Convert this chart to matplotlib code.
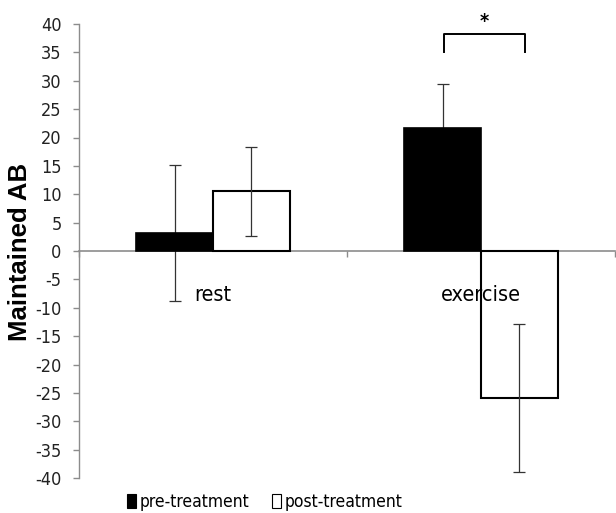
import matplotlib
matplotlib.use("Agg")
import matplotlib.pyplot as plt
from matplotlib import font_manager as fm
from matplotlib.patches import Patch
import numpy as np

# ---- data ----
categories = ["rest", "exercise"]
pre_values = [3.2, 21.7]
post_values = [10.5, -25.9]
pre_err = [12.0, 7.8]
post_err = [7.8, 13.0]
series_labels = ["pre-treatment", "post-treatment"]
y_ticks = list(range(-40, 45, 5))
y_label = "Maintained AB"
sig_label = "*"

# ---- fonts ----
names = {f.name for f in fm.fontManager.ttflist}
if "Liberation Sans Narrow" in names:
    narrow = dict(family=["Liberation Sans Narrow", "DejaVu Sans"])
else:
    narrow = dict(family=["DejaVu Sans"], stretch="condensed")
bold_family = ["Liberation Sans", "DejaVu Sans"]

W, H = 616, 513
fig = plt.figure(figsize=(W / 100, H / 100), dpi=100)
ax_left, ax_right, ax_top, ax_bot = 79, 615, 24, 478
ax = fig.add_axes([ax_left / W, 1 - ax_bot / H, (ax_right - ax_left) / W, (ax_bot - ax_top) / H])

x = np.arange(len(categories))
bw = 0.287
gray = "#8c8c8c"

ax.bar(x - bw / 2, pre_values, bw, color="black", edgecolor="black", linewidth=1.2, zorder=2)
ax.bar(x + bw / 2, post_values, bw, color="white", edgecolor="black", linewidth=1.5, zorder=2)
# pre-treatment error bars sit behind the black bars (hidden where they overlap)
ax.errorbar(x - bw / 2, pre_values, yerr=pre_err, fmt="none", ecolor="#333333",
            elinewidth=0.9, capsize=4, capthick=0.9, zorder=1.8)
ax.errorbar(x + bw / 2, post_values, yerr=post_err, fmt="none", ecolor="#333333",
            elinewidth=0.9, capsize=4, capthick=0.9, zorder=3)

ax.set_xlim(-0.5, 1.5)
ax.set_ylim(-40, 40)

# spines
for s in ["top", "right"]:
    ax.spines[s].set_visible(False)
ax.spines["left"].set_color(gray)
ax.spines["left"].set_linewidth(1.0)
ax.spines["bottom"].set_position(("data", 0))
ax.spines["bottom"].set_color(gray)
ax.spines["bottom"].set_linewidth(1.2)
ax.spines["bottom"].set_zorder(1)

ax.set_yticks(y_ticks)
ax.set_yticklabels([str(v) for v in y_ticks])
ax.tick_params(axis="y", direction="out", length=4.5, width=1.0, color=gray,
               pad=8, labelsize=13, labelcolor="#222222")
for lab in ax.get_yticklabels():
    lab.set_fontfamily(narrow["family"])
    if "stretch" in narrow:
        lab.set_fontstretch(narrow["stretch"])

ax.set_xticks([-0.5, 0.5, 1.5])
ax.set_xticklabels([])
ax.tick_params(axis="x", direction="out", length=4.5, width=1.0, color=gray)

# category labels just below zero line
for xi, c in zip(x, categories):
    ax.annotate(c, xy=(xi, 0), xytext=(0, -50), textcoords="offset pixels",
                ha="center", va="baseline", fontsize=15.5, color="black", **narrow)

# y label
fig.text(20 / W, 1 - 252 / H, y_label, rotation=90, ha="center", va="center",
         fontsize=18.5, fontweight="bold", family=bold_family)

# significance bracket
bx1 = x[1] - bw / 2 + 0.005
bx2 = x[1] + bw / 2 + 0.02
ax.plot([bx1, bx1, bx2, bx2], [35.0, 38.3, 38.3, 35.0], color="black", lw=1.4,
        solid_joinstyle="round", clip_on=False, zorder=4)
ax.text((bx1 + bx2) / 2, 40.4, sig_label, ha="center", va="center", fontsize=14,
        fontweight="bold", clip_on=False, **narrow)

# legend
handles = [Patch(facecolor="black", edgecolor="black", linewidth=0.8),
           Patch(facecolor="white", edgecolor="black", linewidth=0.8)]
leg_font = fm.FontProperties(size=12.5, **narrow)
fig.legend(handles, series_labels, loc="center", bbox_to_anchor=(265 / W, 1 - 502 / H),
           ncol=2, frameon=False, handlelength=0.52, handleheight=0.86,
           handletextpad=0.2, columnspacing=1.3, borderpad=0, prop=leg_font)

fig.savefig("out.png", dpi=100)
